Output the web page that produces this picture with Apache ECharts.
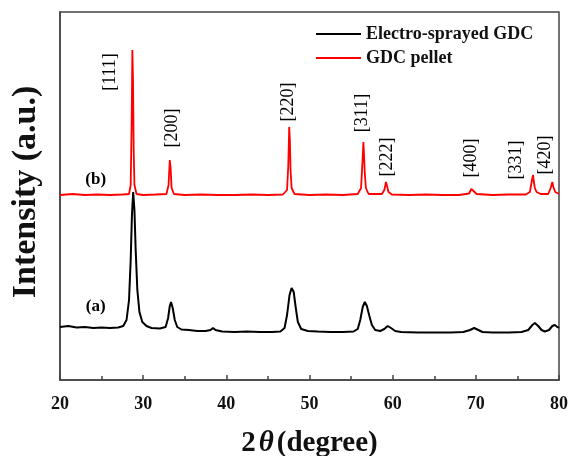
<!DOCTYPE html>
<html>
<head>
    <title>XRD GDC</title>
    <meta charset="utf-8">
    <script type="text/javascript" src="https://cdn.jsdelivr.net/npm/echarts@6/dist/echarts.min.js"></script>
</head>
<body style="margin:0;background:#fff;">
    <div id="main" style="width:571px;height:456px;"></div>
    <script>
        // 2theta vs intensity (arbitrary units, offset traces)
        const sprayed = [[20,53],[21,54],[22,52.5],[23,53],[24,52],[25,52.5],[26,52],[27,52.5],[27.6,54],[28,60],[28.3,80],[28.5,120],[28.65,165],[28.8,188],[28.95,170],[29.1,130],[29.3,90],[29.55,68],[29.9,58],[30.4,54],[31,52],[32,51.5],[32.7,53],[33,62],[33.2,74],[33.35,78],[33.55,72],[33.8,60],[34.1,53],[34.6,50.5],[35.5,50],[36.5,49],[37.5,49],[38.1,50],[38.4,52],[38.7,50],[39.5,48.5],[41,48],[42.5,48.5],[44,48],[45.5,48],[46.5,48.5],[47,52],[47.3,65],[47.6,85],[47.85,92],[48.1,88],[48.35,72],[48.6,58],[49,51],[49.8,49],[51,48.5],[52.5,48],[54,48],[55.3,48.5],[55.8,51],[56.1,60],[56.4,73],[56.65,78],[56.9,74],[57.2,64],[57.5,55],[57.9,50],[58.5,49],[59,51],[59.4,54],[59.8,52],[60.3,49],[61,48],[63,47.5],[65,47.5],[67,47.5],[68.5,48],[69.3,50],[69.8,52],[70.3,50],[70.8,48],[72,47.5],[74,47.5],[75.5,48],[76.3,50],[76.8,55],[77.1,57],[77.5,54],[77.9,50],[78.3,48.5],[78.8,50],[79.2,54],[79.5,55],[79.8,53],[80,52]];
        const pellet = [[20,185],[21.5,186],[23,185],[24.5,185.5],[26,185],[27.5,185.5],[28.3,186],[28.5,195],[28.62,260],[28.7,330],[28.78,300],[28.86,230],[28.95,195],[29.2,186],[30,185],[31.5,185.5],[32.8,186],[33.05,195],[33.2,220],[33.3,212],[33.42,192],[33.7,186],[35,185],[37,185.5],[39,185],[41,185],[43,185.5],[45,185],[46.8,185.5],[47.3,190],[47.45,215],[47.56,253],[47.64,240],[47.72,210],[47.85,192],[48.2,186],[50,185],[52,185.5],[54,185],[55.8,186],[56.2,192],[56.38,220],[56.48,238],[56.56,225],[56.64,208],[56.78,192],[57.1,186],[58.7,186],[59,190],[59.2,198],[59.32,194],[59.5,188],[59.9,185.5],[62,185],[64,185.5],[66,185],[68,185],[69.2,186.5],[69.45,191],[69.58,193],[69.72,189],[70.1,186],[72,185],[74,185.5],[76,185.5],[76.5,188],[76.75,200],[76.88,205],[76.98,198],[77.1,192],[77.3,188],[77.8,186],[78.7,186],[79,192],[79.2,198],[79.32,193],[79.55,188],[80,186]];
        const hklNames = ['[111]', '[200]', '[220]', '[311]', '[222]', '[400]', '[331]', '[420]'];
        const hklX = [26.0, 33.45, 47.5, 56.4, 59.3, 69.45, 74.9, 78.3];
        const hklY = [308, 252, 278, 267, 223, 222, 220, 225];
        const traceTags = ['(a)', '(b)'];
        const traceTagX = [24.3, 24.3];
        const traceTagY = [73, 200];
        const xTicks = [20, 30, 40, 50, 60, 70, 80];

        const serif = '"Liberation Serif", "DejaVu Serif", serif';
        const chart = echarts.init(document.getElementById('main'));
        chart.setOption({
            animation: false,
            backgroundColor: '#fff',
            grid: { left: 60, right: 12, top: 12, bottom: 76, outerBoundsMode: 'none', containLabel: false, show: true, borderColor: '#444', borderWidth: 1.5, backgroundColor: 'transparent' },
            legend: {
                left: 316, top: 22, orient: 'vertical', itemGap: 0, padding: 0,
                itemWidth: 45, itemHeight: 2, icon: 'rect',
                textStyle: { fontFamily: serif, fontWeight: 'bold', fontSize: 18, color: '#111', lineHeight: 24, padding: [0, 0, 0, 0] },
                data: ['Electro-sprayed GDC', 'GDC pellet']
            },
            xAxis: {
                type: 'value', min: xTicks[0], max: xTicks[xTicks.length - 1], interval: 10,
                axisLine: { lineStyle: { color: '#444', width: 1.5 } },
                axisTick: { inside: true, length: 5, lineStyle: { color: '#444', width: 1.5 } },
                minorTick: { show: true, splitNumber: 2, length: 4, lineStyle: { color: '#444', width: 1.5 } },
                splitLine: { show: false },
                axisLabel: { fontFamily: serif, fontWeight: 'bold', fontSize: 18, color: '#111', margin: 15 },
                name: '{a|2}{b|θ}{a|(degree)}', nameLocation: 'middle', nameGap: 49,
                nameTextStyle: {
                    rich: {
                        a: { fontFamily: serif, fontWeight: 'bold', fontSize: 29, color: '#111' },
                        b: { fontFamily: serif, fontWeight: 'bold', fontStyle: 'italic', fontSize: 29, color: '#111', padding: [0, 3, 0, 3] }
                    }
                }
            },
            yAxis: {
                type: 'value', min: 0, max: 368,
                axisLine: { show: true, lineStyle: { color: '#444', width: 1.5 } },
                axisTick: { show: false }, axisLabel: { show: false }, splitLine: { show: false },
                name: 'Intensity (a.u.)', nameLocation: 'middle', nameGap: 17, nameRotate: 90,
                nameTextStyle: { fontFamily: serif, fontWeight: 'bold', fontSize: 34, color: '#111', padding: [0, 0, 0, 8] }
            },
            series: [
                {
                    name: 'Electro-sprayed GDC', type: 'line', data: sprayed, showSymbol: false,
                    itemStyle: { color: '#000' }, lineStyle: { color: '#000', width: 2 }, z: 2
                },
                {
                    name: 'GDC pellet', type: 'line', data: pellet, showSymbol: false,
                    itemStyle: { color: '#f00' }, lineStyle: { color: '#f00', width: 1.8 }, z: 3
                },
                {
                    type: 'scatter', symbolSize: 0, silent: true, itemStyle: { opacity: 1 },
                    data: traceTagX.map((x, i) => ({ value: [x, traceTagY[i]], name: traceTags[i] })),
                    label: {
                        show: true, position: 'inside', formatter: '{b}', opacity: 1,
                        fontFamily: serif, fontWeight: 'bold', fontSize: 17, color: '#000'
                    }
                },
                {
                    type: 'scatter', symbolSize: 0, silent: true, itemStyle: { opacity: 1 },
                    data: hklX.map((x, i) => ({ value: [x, hklY[i]], name: hklNames[i] })),
                    label: {
                        show: true, position: 'inside', rotate: 90, formatter: '{b}', opacity: 1,
                        fontFamily: serif, fontSize: 18, color: '#000'
                    }
                }
            ]
        });
    </script>
</body>
</html>
